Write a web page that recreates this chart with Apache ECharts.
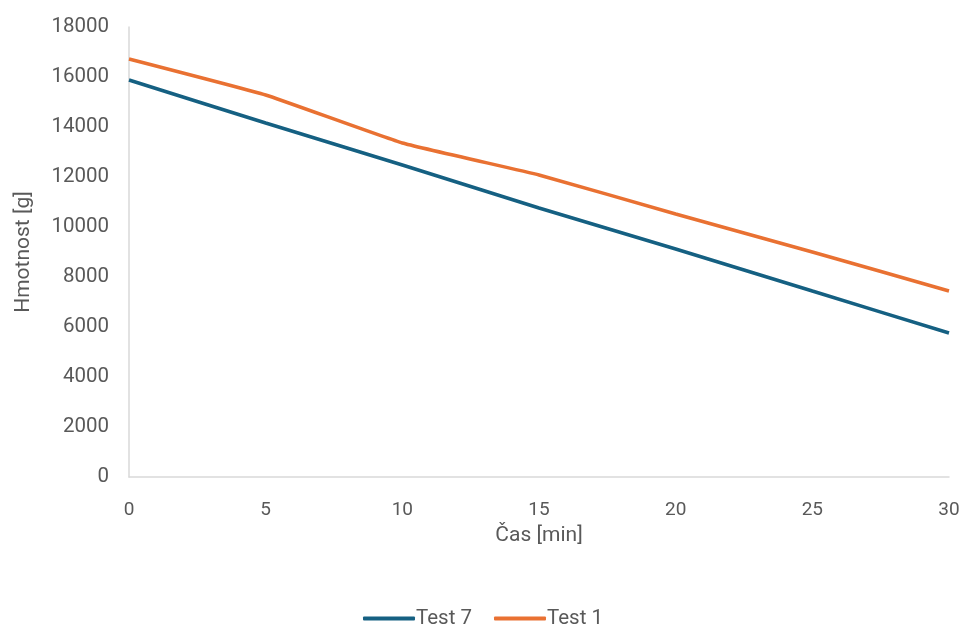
<!DOCTYPE html>
<html><head><meta charset="utf-8">
<script src="https://cdn.jsdelivr.net/npm/echarts@6/dist/echarts.min.js"></script>
<style>html,body{margin:0;padding:0;background:#fff}#c{width:966px;height:626px}</style>
</head><body><div id="c"></div>
<script>
const times = [0, 5, 10, 15, 20, 25, 30];
const test7 = [15880, 14160, 12480, 10760, 9120, 7440, 5760];
const test1 = [16720, 15280, 13360, 12080, 10520, 9000, 7440];
const seriesNames = ['Test 7', 'Test 1'];
const xTitle = 'Čas [min]';
const yTitle = 'Hmotnost [g]';

const font = 'Roboto, "Open Sans", sans-serif';
const chart = echarts.init(document.getElementById('c'));
chart.setOption({
  animation: false,
  grid: {left: 129, right: 17, top: 27, bottom: 149, outerBoundsMode: 'none'},
  legend: {
    top: 608, left: 'center', itemWidth: 52, itemHeight: 4, itemGap: 22,
    icon: 'roundRect', padding: 0,
    textStyle: {color: '#595959', fontSize: 20.5, fontFamily: font, padding: [0,0,0,-4]},
    data: seriesNames
  },
  xAxis: {
    type: 'value', min: 0, max: 30, interval: 5,
    name: xTitle, nameLocation: 'middle', nameGap: 40,
    nameTextStyle: {color: '#595959', fontSize: 21, fontFamily: font},
    axisLine: {show: true, lineStyle: {color: '#d9d9d9', width: 1.5}},
    axisTick: {show: false},
    splitLine: {show: false},
    axisLabel: {color: '#595959', fontSize: 19, fontFamily: font, margin: 24}
  },
  yAxis: {
    type: 'value', min: 0, max: 18000, interval: 2000,
    name: yTitle, nameLocation: 'middle', nameGap: 95, nameRotate: 90,
    nameTextStyle: {color: '#595959', fontSize: 21, fontFamily: font},
    axisLine: {show: true, lineStyle: {color: '#d9d9d9', width: 1.5}},
    axisTick: {show: false},
    splitLine: {show: false},
    axisLabel: {color: '#595959', fontSize: 20.5, fontFamily: font, margin: 20, formatter: v => String(v)}
  },
  series: [
    {name: seriesNames[0], type: 'line', data: times.map((t,i)=>[t, test7[i]]),
     showSymbol: false, smooth: 0.1, lineStyle: {color: '#156082', width: 3.5}, itemStyle: {color: '#156082'}},
    {name: seriesNames[1], type: 'line', data: times.map((t,i)=>[t, test1[i]]),
     showSymbol: false, smooth: 0.1, lineStyle: {color: '#E97132', width: 3.5}, itemStyle: {color: '#E97132'}}
  ]
});
</script></body></html>
